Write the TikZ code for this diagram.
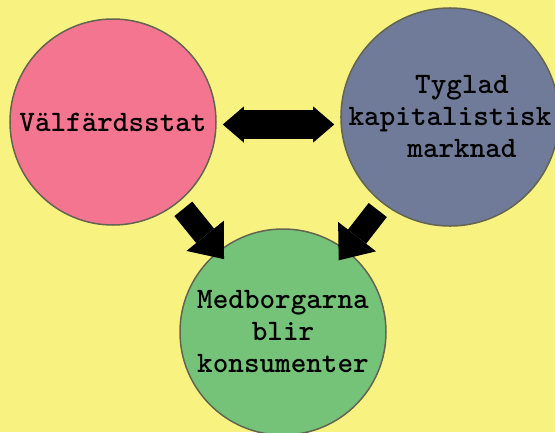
\documentclass[tikz,border=0pt]{standalone}
\usepackage{fontspec}
\usepackage{xcolor}
\usetikzlibrary{arrows.meta}

\definecolor{bgyellow}{RGB}{248,243,128}
\definecolor{welfpink}{RGB}{244,117,143}
\definecolor{marketblue}{RGB}{111,123,152}
\definecolor{citgreen}{RGB}{116,195,120}
\definecolor{rimgrey}{RGB}{100,100,82}

\begin{document}
\begin{tikzpicture}[x=1pt, y=-1pt]
  % Styles
  \tikzstyle{sphere}=[circle, draw=rimgrey, line width=1.5pt, minimum size=206pt, inner sep=0pt, align=center, font=\ttfamily\bfseries\fontsize{29.7}{32}\selectfont]
  \tikzstyle{bigarrow}=[line width=23pt, -{Triangle[length=30pt, width=48pt, line width=0pt]}]
  \tikzstyle{dblarrow}=[line width=29pt, {Triangle[length=21pt, width=36pt, line width=0pt]}-{Triangle[length=21pt, width=36pt, line width=0pt]}]

  % Background
  \useasboundingbox (0,0) rectangle (555,432);
  \fill[bgyellow] (0,0) rectangle (555,432);
  \clip (0,0) rectangle (555,432);

  % Circles
  \node[sphere, fill=welfpink]   (stat)     at (113,122) {Välfärdsstat};
  \node[sphere, fill=marketblue] (market)   at (450,117) {\hspace*{24pt}Tyglad\\kapitalistisk\\\hspace*{24pt}marknad};
  \node[sphere, fill=citgreen]   (citizens) at (283,332) {Medborgarna\\blir\\konsumenter};

  % Block arrows
  \draw[dblarrow, shorten <=6pt, shorten >=6pt] ([yshift=-2.5pt]stat.east) -- ([yshift=-2.5pt]stat.east -| market.west);
  \draw[bigarrow, shorten <=8pt, shorten >=-10pt] (stat) -- (citizens);
  \draw[bigarrow, shorten <=8pt, shorten >=-13pt] (market) -- (citizens);
\end{tikzpicture}
\end{document}
